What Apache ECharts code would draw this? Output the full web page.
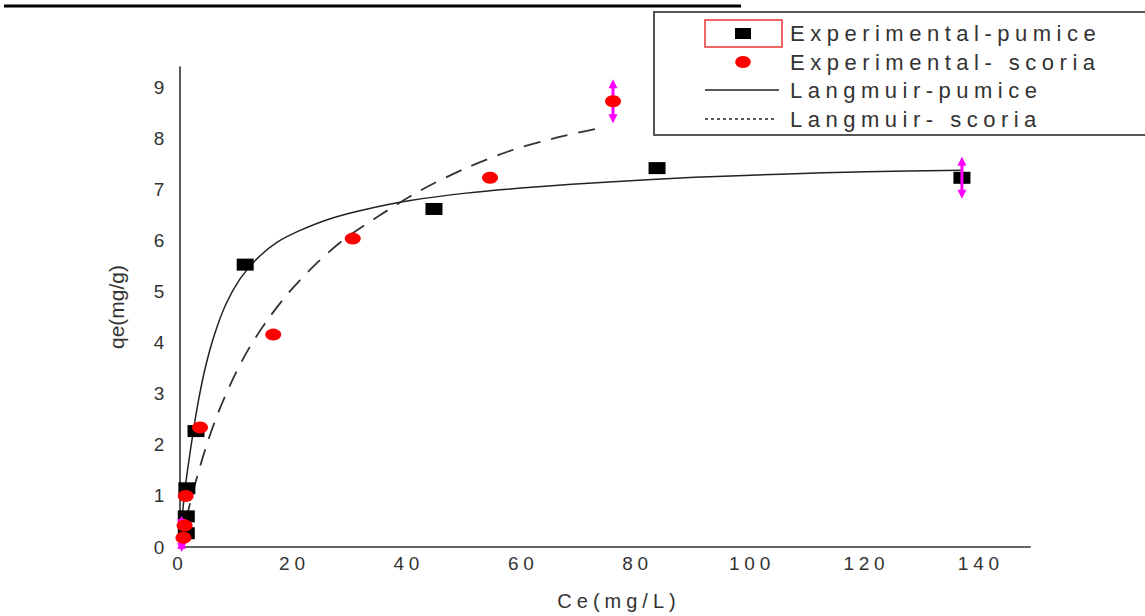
<!DOCTYPE html>
<html>
<head>
<meta charset="utf-8">
<script src="https://cdn.jsdelivr.net/npm/echarts@6/dist/echarts.min.js"></script>
<style>
html, body { margin: 0; padding: 0; background: #fff; }
#chart { width: 1145px; height: 616px; }
/* 原图文字字距很宽 */
#chart text { letter-spacing: 0.25em; }
/* 竖排的 y 轴标题不加字距 */
#chart text[transform^="matrix(0,-1"] { letter-spacing: 0; }
</style>
</head>
<body>
<div id="chart"></div>
<script>
// 实验点
var pumiceCe = [1.1, 1.1, 1.2, 2.8, 11.4, 44.4, 83.4, 136.7];
var pumiceQe = [0.27, 0.6, 1.15, 2.27, 5.53, 6.62, 7.42, 7.23];
var scoriaCe = [0.6, 0.8, 1.0, 3.5, 16.3, 30.2, 54.2, 75.7];
var scoriaQe = [0.18, 0.42, 1.0, 2.34, 4.16, 6.04, 7.23, 8.73];

// Langmuir 拟合曲线（从图上读出的点）
var langPumiceCe = [0, 0.4, 0.9, 1.5, 2.3, 3.2, 4.4, 6.0, 8.0, 10.5, 13.5, 17, 21, 26, 32, 40, 50, 62, 75, 90, 105, 120, 136.7];
var langPumiceQe = [0, 0.6, 1.15, 1.65, 2.25, 2.85, 3.5, 4.15, 4.75, 5.25, 5.65, 5.97, 6.2, 6.42, 6.6, 6.78, 6.93, 7.05, 7.15, 7.24, 7.3, 7.35, 7.38];
var langScoriaCe = [0, 0.5, 1.75, 3.1, 4.9, 7.0, 9.6, 12, 15, 19, 24, 29, 35, 42, 50, 58, 66, 74];
var langScoriaQe = [0, 0.27, 0.85, 1.42, 2.08, 2.72, 3.37, 3.88, 4.4, 4.98, 5.57, 6.05, 6.5, 6.98, 7.42, 7.77, 8.02, 8.22];

// 误差棒 (Ce, qe, 半宽)
var errCe = [0.3, 0.3, 75.7, 136.7];
var errQe = [0.02, 0.49, 8.73, 7.23];
var errHalf = [0.12, 0.12, 0.43, 0.41];

var legendNames = ['Experimental-pumice', 'Experimental- scoria', 'Langmuir-pumice', 'Langmuir- scoria'];

function zip(a, b, c) {
  return a.map(function (v, i) { return c ? [v, b[i], c[i]] : [v, b[i]]; });
}

var FONT = "'Liberation Sans', Arial, sans-serif";
var chart = echarts.init(document.getElementById('chart'), null, { renderer: 'svg' });

var option = {
  backgroundColor: '#fff',
  animation: false,
  grid: { left: 180, top: 67, width: 850, height: 481 },
  xAxis: {
    type: 'value',
    min: 0,
    max: 148.6,
    interval: 20,
    name: 'Ce(mg/L)',
    nameLocation: 'middle',
    nameGap: 44,
    nameTextStyle: { fontSize: 20, color: '#333', fontFamily: FONT, padding: [0, 0, 0, 28] },
    axisLine: { show: true, lineStyle: { color: '#666', width: 2 } },
    axisTick: { show: false },
    splitLine: { show: false },
    axisLabel: { fontSize: 19, color: '#333', fontFamily: FONT, margin: 7, showMaxLabel: false }
  },
  yAxis: {
    type: 'value',
    min: 0,
    max: 9.4,
    interval: 1,
    name: 'qe(mg/g)',
    nameLocation: 'middle',
    nameRotate: 90,
    nameGap: 53,
    nameTextStyle: { fontSize: 21, color: '#333', fontFamily: FONT },
    axisLine: { show: true, lineStyle: { color: '#222', width: 1.5 } },
    axisTick: { show: false },
    splitLine: { show: false },
    axisLabel: { fontSize: 19, color: '#333', fontFamily: FONT, margin: 11, showMaxLabel: false }
  },
  series: [
    {
      name: legendNames[2],
      type: 'line',
      smooth: 0.3,
      showSymbol: false,
      lineStyle: { color: '#222', width: 1.5 },
      data: zip(langPumiceCe, langPumiceQe),
      z: 2
    },
    {
      name: legendNames[3],
      type: 'line',
      smooth: 0.3,
      showSymbol: false,
      lineStyle: { color: '#333', width: 1.8, type: [17, 11] },
      data: zip(langScoriaCe, langScoriaQe),
      z: 2
    },
    {
      name: legendNames[0],
      type: 'scatter',
      symbol: 'rect',
      symbolSize: [17, 12],
      itemStyle: { color: '#000', opacity: 1 },
      data: zip(pumiceCe, pumiceQe),
      z: 3
    },
    {
      name: 'error',
      type: 'custom',
      renderItem: function (params, api) {
        var x = api.value(0), y = api.value(1), e = api.value(2);
        var top = api.coord([x, y + e]);
        var bot = api.coord([x, y - e]);
        var w = 4.5, h = 9;
        return {
          type: 'group',
          children: [
            { type: 'line', shape: { x1: top[0], y1: top[1] + h * 0.5, x2: bot[0], y2: bot[1] - h * 0.5 }, style: { stroke: '#ff00ff', lineWidth: 3 } },
            { type: 'polygon', shape: { points: [[top[0], top[1]], [top[0] - w, top[1] + h], [top[0] + w, top[1] + h]] }, style: { fill: '#ff00ff' } },
            { type: 'polygon', shape: { points: [[bot[0], bot[1]], [bot[0] - w, bot[1] - h], [bot[0] + w, bot[1] - h]] }, style: { fill: '#ff00ff' } }
          ]
        };
      },
      data: zip(errCe, errQe, errHalf),
      z: 4
    },
    {
      name: legendNames[1],
      type: 'scatter',
      symbol: 'circle',
      symbolSize: [16, 12],
      itemStyle: { color: '#ff0000', opacity: 1 },
      data: zip(scoriaCe, scoriaQe),
      z: 5
    }
  ],
  graphic: [
    // 顶部黑线
    { type: 'line', shape: { x1: 4, y1: 6, x2: 741, y2: 6 }, style: { stroke: '#000', lineWidth: 3 } },
    // 图例框
    { type: 'rect', shape: { x: 654, y: 12, width: 520, height: 123 }, style: { fill: '#fff', stroke: '#555', lineWidth: 2 }, z: 10 },
    { type: 'rect', shape: { x: 705, y: 20, width: 77, height: 27 }, style: { fill: 'none', stroke: '#ee3333', lineWidth: 1.5 }, z: 11 },
    { type: 'rect', shape: { x: 735, y: 28, width: 16, height: 11 }, style: { fill: '#000' }, z: 11 },
    { type: 'circle', x: 743, y: 62, scaleX: 1.3, shape: { cx: 0, cy: 0, r: 6 }, style: { fill: '#ff0000' }, z: 11 },
    { type: 'line', shape: { x1: 705, y1: 90, x2: 779, y2: 90 }, style: { stroke: '#222', lineWidth: 1.5 }, z: 11 },
    { type: 'line', shape: { x1: 705, y1: 119, x2: 775, y2: 119 }, style: { stroke: '#222', lineWidth: 1.5, lineDash: [3, 3] }, z: 11 },
    { type: 'text', x: 790, y: 33, style: { text: legendNames[0], fontSize: 22, fontFamily: FONT, fill: '#333', verticalAlign: 'middle' }, z: 11 },
    { type: 'text', x: 790, y: 62, style: { text: legendNames[1], fontSize: 22, fontFamily: FONT, fill: '#333', verticalAlign: 'middle' }, z: 11 },
    { type: 'text', x: 790, y: 90, style: { text: legendNames[2], fontSize: 22, fontFamily: FONT, fill: '#333', verticalAlign: 'middle' }, z: 11 },
    { type: 'text', x: 790, y: 119, style: { text: legendNames[3], fontSize: 22, fontFamily: FONT, fill: '#333', verticalAlign: 'middle' }, z: 11 }
  ]
};

chart.setOption(option);
</script>
</body>
</html>
